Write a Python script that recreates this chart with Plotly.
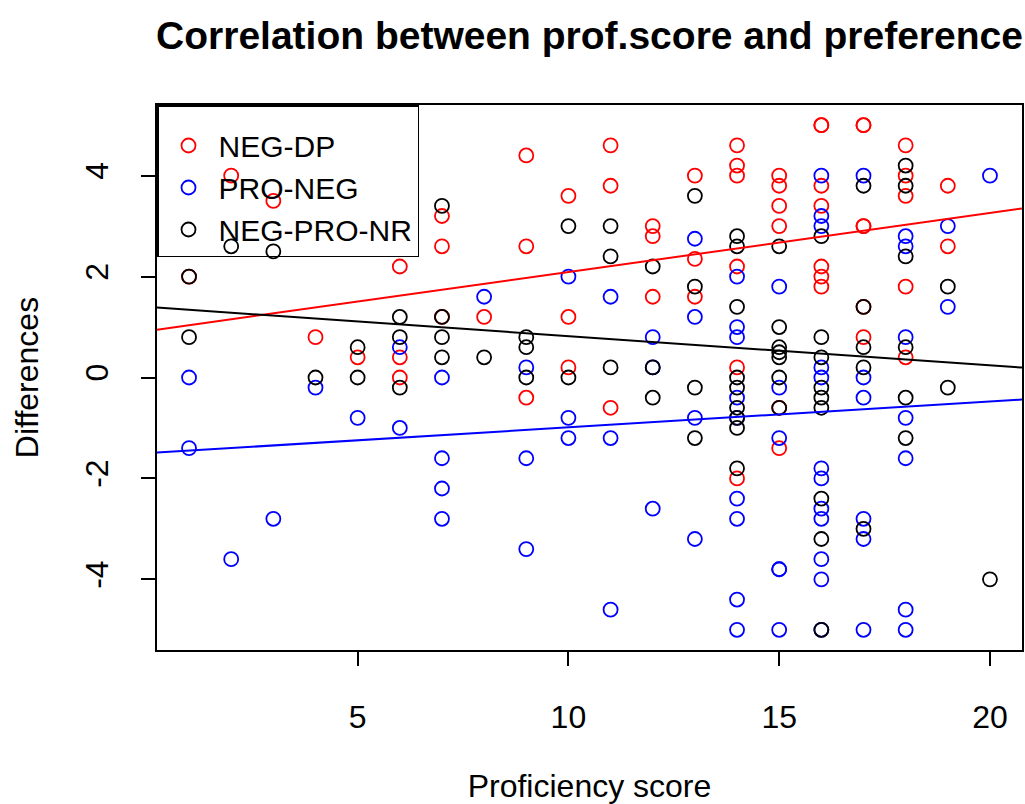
import plotly.graph_objects as go

# ---- data ----
neg_dp_x = [1, 2, 3, 4, 5, 6, 6, 6, 7, 7, 7, 8, 9, 9, 9, 10, 10, 10, 11, 11, 11,
            12, 12, 12, 13, 13, 13, 14, 14, 14, 14, 14, 14,
            15, 15, 15, 15, 15, 15, 16, 16, 16, 16, 16, 16, 16,
            17, 17, 17, 17, 17, 17, 18, 18, 18, 18, 18, 19, 19]
neg_dp_y = [2.0, 4.0, 3.5, 0.8, 0.4, 2.2, 0.4, 0.0, 3.2, 2.6, 1.2, 1.2, 4.4, 2.6, -0.4,
            3.6, 1.2, 0.2, 4.6, 3.8, -0.6, 3.0, 2.8, 1.6, 4.0, 2.35, 1.6,
            4.6, 4.2, 4.0, 2.2, 0.2, -2.0,
            4.0, 3.8, 3.4, 3.0, -0.6, -1.4,
            5.0, 5.0, 3.8, 3.4, 2.2, 2.0, 1.8,
            5.0, 5.0, 3.0, 3.0, 1.4, 0.8,
            4.6, 4.0, 3.6, 1.8, 0.4, 3.8, 2.6]

pro_neg_x = [1, 1, 2, 3, 4, 5, 6, 6, 7, 7, 7, 7, 8, 9, 9, 9, 10, 10, 10, 11, 11, 11,
             12, 12, 12, 13, 13, 13, 13,
             14, 14, 14, 14, 14, 14, 14, 14, 14,
             15, 15, 15, 15, 15, 15,
             16, 16, 16, 16, 16, 16, 16, 16, 16, 16, 16, 16,
             17, 17, 17, 17, 17, 17,
             18, 18, 18, 18, 18, 18, 18, 19, 19, 20]
pro_neg_y = [0.0, -1.4, -3.6, -2.8, -0.2, -0.8, 0.6, -1.0, 0.0, -1.6, -2.2, -2.8, 1.6,
             0.2, -1.6, -3.4, 2.0, -0.8, -1.2, 1.6, -1.2, -4.6,
             0.8, 0.2, -2.6, 2.75, 1.2, -0.8, -3.2,
             2.0, 1.0, 0.8, -0.4, -0.8, -2.4, -2.8, -4.4, -5.0,
             1.8, -0.2, -1.2, -3.8, -3.8, -5.0,
             4.0, 3.2, 3.0, 0.2, 0.0, -1.8, -2.0, -2.6, -2.8, -3.6, -4.0, -5.0,
             4.0, 0.0, -0.4, -2.8, -3.2, -5.0,
             2.8, 2.6, 0.8, -0.8, -1.6, -4.6, -5.0, 3.0, 1.4, 4.0]

nr_x = [1, 1, 2, 3, 4, 5, 5, 6, 6, 6, 7, 7, 7, 7, 8, 9, 9, 9, 10, 10, 11, 11, 11,
        12, 12, 12, 13, 13, 13, 13,
        14, 14, 14, 14, 14, 14, 14, 14, 14,
        15, 15, 15, 15, 15, 15, 15,
        16, 16, 16, 16, 16, 16, 16, 16, 16,
        17, 17, 17, 17, 17,
        18, 18, 18, 18, 18, 18, 19, 19, 20]
nr_y = [2.0, 0.8, 2.6, 2.5, 0.0, 0.6, 0.0, 1.2, 0.8, -0.2, 3.4, 1.2, 0.8, 0.4, 0.4,
        0.8, 0.6, 0.0, 3.0, 0.0, 3.0, 2.4, 0.2, 2.2, 0.2, -0.4, 3.6, 1.8, -0.2, -1.2,
        2.8, 2.6, 1.4, 0.0, -0.2, -0.6, -0.8, -1.0, -1.8,
        2.6, 1.0, 0.6, 0.5, 0.4, 0.0, -0.6,
        2.8, 0.8, 0.4, -0.2, -0.4, -0.6, -2.4, -3.2, -5.0,
        3.8, 1.4, 0.6, 0.2, -3.0,
        4.2, 3.8, 2.4, 0.6, -0.4, -1.2, 1.8, -0.2, -4.0]

# regression lines (intercept, slope)
fit_neg_dp = (0.92, 0.117)
fit_pro_neg = (-1.50, 0.0512)
fit_nr = (1.40, -0.058)

series_names = ["NEG-DP", "PRO-NEG", "NEG-PRO-NR"]
series_colors = ["#ff0000", "#0000ff", "#000000"]

x_ticks = [5, 10, 15, 20]
y_ticks = [-4, -2, 0, 2, 4]
x_range = [0.24, 20.76]
y_range = [-5.4, 5.4]

FONT = "Liberation Sans, Arial, sans-serif"

fig = go.Figure()
data = [(neg_dp_x, neg_dp_y), (pro_neg_x, pro_neg_y), (nr_x, nr_y)]
fits = [fit_neg_dp, fit_pro_neg, fit_nr]

for (xs, ys), name, col in zip(data, series_names, series_colors):
    fig.add_trace(go.Scatter(
        x=xs, y=ys, mode="markers", name=name,
        marker=dict(symbol="circle-open", size=14, color=col, line=dict(width=1.8, color=col)),
    ))

for (b0, b1), col in zip(fits, series_colors):
    fig.add_trace(go.Scatter(
        x=x_range, y=[b0 + b1 * x_range[0], b0 + b1 * x_range[1]],
        mode="lines", line=dict(color=col, width=2), showlegend=False, hoverinfo="skip",
    ))

fig.update_layout(
    width=1025, height=804,
    margin=dict(l=157, r=1, t=105, b=154),
    paper_bgcolor="white", plot_bgcolor="white",
    font=dict(family=FONT, size=32, color="black"),
    title=dict(text="<b>Correlation between prof.score and preference</b>",
               x=0.5, xref="paper", xanchor="center",
               y=1 - 35 / 804, yref="container", yanchor="middle",
               font=dict(size=39, family=FONT, color="black")),
    showlegend=True,
    legend=dict(x=0, y=1, xanchor="left", yanchor="top",
                bgcolor="rgba(0,0,0,0)", bordercolor="black", borderwidth=1.5,
                font=dict(size=30, family=FONT), itemsizing="trace",
                itemwidth=50, tracegroupgap=0,
                title=dict(text=" ", font=dict(size=10))),
)

fig.update_xaxes(
    range=x_range, tickvals=x_ticks, ticktext=[str(v) for v in x_ticks],
    showgrid=False, zeroline=False, showline=True, linecolor="black", linewidth=2,
    mirror=True, ticks="outside", ticklen=14, tickwidth=1.5, tickcolor="black",
    ticklabelstandoff=24,
    title=dict(text="Proficiency score", standoff=42, font=dict(size=32)),
)
fig.update_yaxes(
    range=y_range, tickvals=y_ticks, ticktext=[str(v) for v in y_ticks],
    showgrid=False, zeroline=False, showline=True, linecolor="black", linewidth=2,
    mirror=True, ticks="outside", ticklen=14, tickwidth=1.5, tickcolor="black",
    tickangle=-90, ticklabelstandoff=20,
    title=dict(text="Differences", standoff=31, font=dict(size=32)),
)

fig.write_html("out.html")
